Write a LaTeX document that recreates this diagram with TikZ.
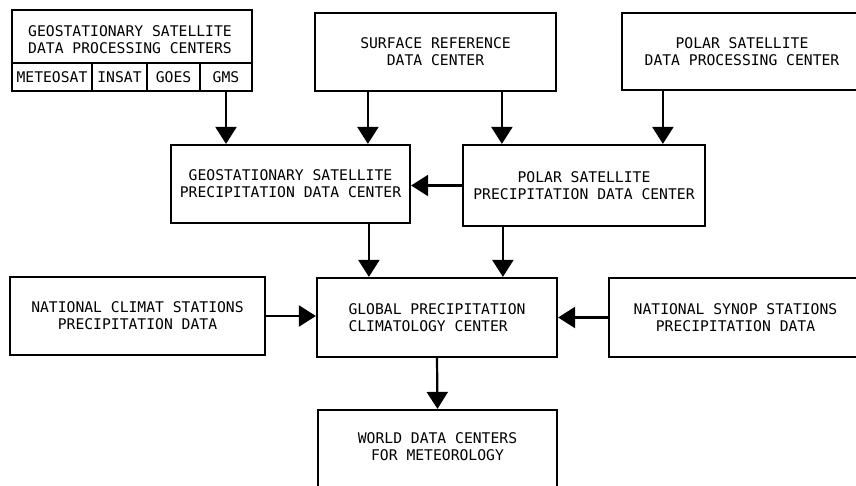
\documentclass[tikz,border=0pt]{standalone}
\usepackage{fontspec}
\newfontfamily\diagfont{DejaVu Sans Mono}
\usetikzlibrary{arrows.meta,calc}
\tikzset{
  box/.style={draw, line width=2.2pt, rectangle, inner sep=0pt, align=center,
    font=\diagfont\fontsize{14.7}{17}\selectfont},
  cell/.style={box, minimum height=28pt},
  txt/.style={inner sep=0pt, align=center, font=\diagfont\fontsize{14.7}{17}\selectfont},
  arr/.style={line width=2.2pt, -{Triangle[length=17pt,width=21pt]}}
}
\begin{document}
\begin{tikzpicture}[x=1pt,y=-1pt]
\useasboundingbox (0,0) rectangle (856,486);
\fill[white] (0,0) rectangle (856,486);
% geostationary satellite data processing centers
\node[box, minimum width=240pt, minimum height=81pt] (gp) at (132,50.5) {};
\node[txt] (gpt) at (130,39.5) {GEOSTATIONARY SATELLITE\\DATA PROCESSING CENTERS};
\node[cell, minimum width=80pt] (met) at (52,77) {METEOSAT};
\node[cell, minimum width=55pt] (ins) at (119.5,77) {INSAT};
\node[cell, minimum width=53pt] (goe) at (173.5,77) {GOES};
\node[cell, minimum width=52pt] (gms) at (226,77) {GMS};
% top row
\node[box, minimum width=241pt, minimum height=78pt] (sr) at (435.5,52) {SURFACE REFERENCE\\DATA CENTER};
\node[box, minimum width=240pt, minimum height=77pt] (pp) at (742,51.5) {POLAR SATELLITE\\DATA PROCESSING CENTER};
% middle row
\node[box, minimum width=239pt, minimum height=78pt] (gsp) at (290.5,184) {GEOSTATIONARY SATELLITE\\PRECIPITATION DATA CENTER};
\node[box, minimum width=242pt, minimum height=81pt] (psp) at (584,185.5) {POLAR SATELLITE\\PRECIPITATION DATA CENTER};
% third row
\node[box, minimum width=255pt, minimum height=78pt] (nc) at (137.5,316) {NATIONAL CLIMAT STATIONS\\PRECIPITATION DATA};
\node[box, minimum width=240pt, minimum height=79pt, align=left] (gpcc) at (437,317.5) {GLOBAL PRECIPITATION\\CLIMATOLOGY CENTER};
\node[box, minimum width=253pt, minimum height=79pt] (ns) at (735.5,317.5) {NATIONAL SYNOP STATIONS\\PRECIPITATION DATA};
% bottom
\node[box, minimum width=239pt, minimum height=82pt, text depth=8pt] (wd) at (437.5,451) {WORLD DATA CENTERS\\FOR METEOROLOGY};
% connectors
\draw[arr] (gms.south) -- (gms.south |- gsp.north);
\draw[arr] ([xshift=54pt]sr.south west) -- ([xshift=54pt]sr.south west |- gsp.north);
\draw[arr] ([xshift=188pt]sr.south west) -- ([xshift=188pt]sr.south west |- psp.north);
\draw[arr] ([xshift=42pt]pp.south west) -- ([xshift=42pt]pp.south west |- psp.north);
\draw[arr] (psp.west) -- (psp.west -| gsp.east);
\draw[arr] ([xshift=53pt]gpcc.north west |- gsp.south) -- ([xshift=53pt]gpcc.north west);
\draw[arr] ([xshift=187pt]gpcc.north west |- psp.south) -- ([xshift=187pt]gpcc.north west);
\draw[arr] (nc.east) -- (nc.east -| gpcc.west);
\draw[arr] (ns.west) -- (ns.west -| gpcc.east);
\draw[arr] (gpcc.south) -- (wd.north);
\end{tikzpicture}
\end{document}
